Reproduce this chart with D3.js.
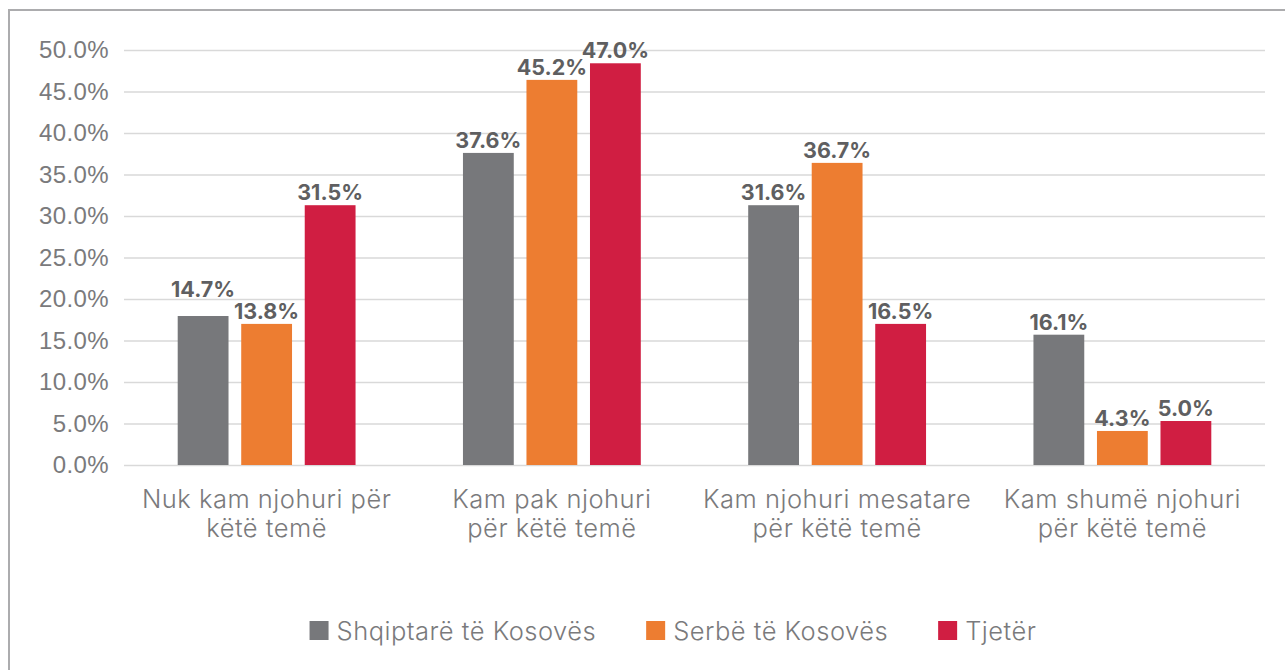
<!DOCTYPE html>
<html>
<head>
<meta charset="utf-8">
<script src="https://cdn.jsdelivr.net/npm/d3@7"></script>
<style>
  body { margin: 0; background: #fff; }
  svg { display: block; font-family: Inter, "Noto Sans", sans-serif; }
</style>
</head>
<body>
<svg id="chart" width="1285" height="670"></svg>
<script>
// categories (line breaks as in the original)
const categories = [
  "Nuk kam njohuri për\nkëtë temë",
  "Kam pak njohuri\npër këtë temë",
  "Kam njohuri mesatare\npër këtë temë",
  "Kam shumë njohuri\npër këtë temë"
];
const seriesNames = ["Shqiptarë të Kosovës", "Serbë të Kosovës", "Tjetër"];
const seriesColors = ["#77787b", "#ed7d31", "#d01e42"];

// bar heights as drawn, per series
const shqiptare = [17.95, 37.6, 31.3, 15.7];
const serbe = [17.0, 46.4, 36.4, 4.1];
const tjeter = [31.3, 48.4, 17.0, 5.3];

// data labels as printed on the bars
const shqiptareLabels = ["14.7%", "37.6%", "31.6%", "16.1%"];
const serbeLabels = ["13.8%", "45.2%", "36.7%", "4.3%"];
const tjeterLabels = ["31.5%", "47.0%", "16.5%", "5.0%"];

const yTicks = [0, 5, 10, 15, 20, 25, 30, 35, 40, 45, 50];

const series = [shqiptare, serbe, tjeter];
const labels = [shqiptareLabels, serbeLabels, tjeterLabels];

const svg = d3.select("#chart");
const margin = { top: 50, right: 20, bottom: 205, left: 124 };
const width = 1285 - margin.left - margin.right,
  height = 670 - margin.top - margin.bottom;

// outer frame
svg.append("rect")
  .attr("x", 9).attr("y", 10)
  .attr("width", 1320).attr("height", 700)
  .attr("fill", "none")
  .attr("stroke", "#acacae")
  .attr("stroke-width", 2);

const g = svg.append("g")
  .attr("transform", "translate(" + margin.left + "," + margin.top + ")");

const x0 = d3.scaleBand()
  .domain(categories)
  .range([0, width])
  .paddingInner(0.332)
  .paddingOuter(0.166);

const x1 = d3.scaleBand()
  .domain(seriesNames)
  .range([0, x0.bandwidth()])
  .paddingInner(0.2)
  .paddingOuter(0.1);

const y = d3.scaleLinear().domain([0, 50]).range([height, 0]);

// gridlines
g.append("g")
  .attr("class", "grid")
  .call(d3.axisLeft(y).tickValues(yTicks).tickSize(-width).tickFormat(""))
  .call(a => a.select(".domain").remove())
  .call(a => a.selectAll("line").attr("stroke", "#d9d9d9").attr("stroke-width", 1.5));

// y axis labels
g.append("g")
  .attr("class", "axis axis--y")
  .call(d3.axisLeft(y).tickValues(yTicks).tickSize(0).tickPadding(15)
    .tickFormat(d => d.toFixed(1) + "%"))
  .call(a => a.select(".domain").remove())
  .call(a => a.selectAll("text")
    .attr("fill", "#7a7a7c")
    .style("font-size", "24px")
    .style("letter-spacing", "0.4px")
    .style("font-weight", 300));

// bars
const groups = g.selectAll(".group")
  .data(categories)
  .enter().append("g")
  .attr("class", "group")
  .attr("transform", d => "translate(" + x0(d) + ",0)");

const cells = (d, i) => seriesNames.map((s, j) => ({ s: s, j: j, v: series[j][i], label: labels[j][i], i: i }));

groups.selectAll("rect")
  .data(cells)
  .enter().append("rect")
  .attr("x", d => x1(d.s))
  .attr("y", d => y(d.v))
  .attr("width", x1.bandwidth())
  .attr("height", d => height - y(d.v))
  .attr("fill", d => seriesColors[d.j]);

// data labels (the first one was lifted by hand in the original)
groups.selectAll(".val")
  .data(cells)
  .enter().append("text")
  .attr("class", "val")
  .attr("x", d => x1(d.s) + x1.bandwidth() / 2)
  .attr("y", d => y(d.v) - 5 - (d.i === 0 && d.j === 0 ? 14 : 0))
  .attr("text-anchor", "middle")
  .attr("fill", "#5f5f61")
  .style("font-size", "21.5px")
  .style("font-weight", 700)
  .text(d => d.label);

// category labels
const cat = g.append("g").attr("class", "axis axis--x");
categories.forEach(c => {
  const cx = x0(c) + x0.bandwidth() / 2;
  const t = cat.append("text")
    .attr("x", cx)
    .attr("y", height + 43)
    .attr("text-anchor", "middle")
    .attr("fill", "#7a7a7c")
    .style("font-size", "25.5px")
    .style("letter-spacing", "0.5px")
    .style("font-weight", 300);
  c.split("\n").forEach((line, k) => {
    t.append("tspan")
      .attr("x", cx)
      .attr("dy", k === 0 ? 0 : 29)
      .text(line);
  });
});

// legend
const legend = svg.append("g").attr("class", "legend");
let lx = 0;
seriesNames.forEach((s, j) => {
  const it = legend.append("g");
  it.append("rect")
    .attr("x", 0).attr("y", -10)
    .attr("width", 19).attr("height", 19)
    .attr("fill", seriesColors[j]);
  const txt = it.append("text")
    .attr("x", 27).attr("y", 9)
    .attr("fill", "#7a7a7c")
    .style("font-size", "25.5px")
    .style("letter-spacing", "0.5px")
    .style("font-weight", 300)
    .text(s);
  const w = 27 + txt.node().getComputedTextLength();
  it.attr("transform", "translate(" + lx + ",0)");
  lx += w + 50;
});
const legendW = lx - 50;
legend.attr("transform", "translate(" + (673 - legendW / 2) + ",631)");
</script>
</body>
</html>
